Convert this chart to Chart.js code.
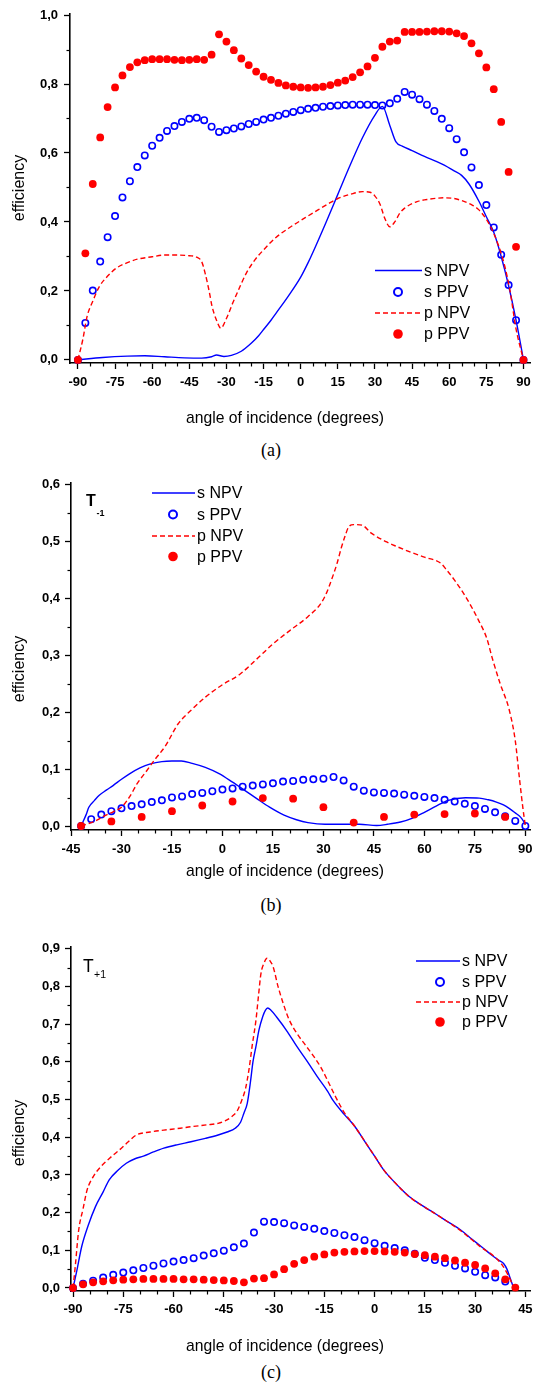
<!DOCTYPE html>
<html><head><meta charset="utf-8">
<script src="https://cdn.jsdelivr.net/npm/chart.js@4.4.1/dist/chart.umd.min.js"></script>
<style>
html,body{margin:0;padding:0;background:#fff;}
#page{position:relative;width:536px;height:1382px;overflow:hidden;background:#fff;}
.wrap{position:absolute;left:0;width:536px;}
.cap{position:absolute;left:0;width:542px;text-align:center;font-family:'Liberation Serif','Times New Roman',serif;font-size:18px;line-height:20px;color:#000;}
</style></head>
<body><div id="page">
<div class="wrap" style="top:0px;height:433px"><canvas id="ca" width="536" height="433"></canvas></div>
<div class="cap" style="top:440px">(a)</div>
<div class="wrap" style="top:465px;height:425px"><canvas id="cb" width="536" height="425"></canvas></div>
<div class="cap" style="top:895px">(b)</div>
<div class="wrap" style="top:925px;height:436px"><canvas id="cc" width="536" height="436"></canvas></div>
<div class="cap" style="top:1362px">(c)</div>
</div>
<script>
// ---------------- DATA ----------------
const seriesLabels = ['s NPV', 's PPV', 'p NPV', 'p PPV'];
const xTitle = 'angle of incidence (degrees)';
const yTitle = 'efficiency';

// Panel (a)
const aXTicks = [-90,-75,-60,-45,-30,-15,0,15,30,45,60,75,90];
const aYTicks = [0,0.2,0.4,0.6,0.8,1.0];
const aAngles = [-90,-87,-84,-81,-78,-75,-72,-69,-66,-63,-60,-57,-54,-51,-48,-45,-42,-39,-36,-33,-30,-27,-24,-21,-18,-15,-12,-9,-6,-3,0,3,6,9,12,15,18,21,24,27,30,33,36,39,42,45,48,51,54,57,60,63,66,69,72,75,78,81,84,87,90];
const aSPPV = [0,0.107,0.201,0.285,0.356,0.417,0.471,0.518,0.559,0.593,0.621,0.644,0.664,0.678,0.690,0.699,0.702,0.695,0.676,0.661,0.666,0.671,0.677,0.684,0.690,0.697,0.702,0.708,0.714,0.719,0.724,0.728,0.731,0.734,0.736,0.738,0.739,0.740,0.740,0.740,0.739,0.738,0.744,0.757,0.777,0.769,0.756,0.740,0.722,0.699,0.672,0.640,0.602,0.558,0.507,0.449,0.384,0.305,0.217,0.115,0];
const aPPPV = [0,0.309,0.51,0.645,0.733,0.79,0.825,0.849,0.863,0.869,0.872,0.872,0.872,0.870,0.869,0.870,0.872,0.870,0.885,0.944,0.923,0.898,0.874,0.855,0.836,0.821,0.812,0.803,0.796,0.792,0.790,0.789,0.790,0.792,0.797,0.804,0.810,0.820,0.834,0.851,0.876,0.908,0.923,0.926,0.951,0.951,0.951,0.952,0.953,0.953,0.952,0.947,0.939,0.918,0.889,0.848,0.785,0.690,0.545,0.328,0];
const aSNPVx = [-90,-80,-70,-63,-55,-47,-40,-36,-34,-31,-28,-24,-20,-17,-15,-12,-10,-5,0,3,5,10,15,20,25,30,33,36,38.5,41,45,50,55,58,62,65,68,72,75,78,81,84,87,90];
const aSNPVy = [0,0.007,0.011,0.012,0.009,0.006,0.005,0.009,0.014,0.010,0.013,0.025,0.048,0.07,0.088,0.115,0.135,0.185,0.24,0.282,0.313,0.395,0.48,0.565,0.645,0.71,0.735,0.68,0.632,0.62,0.607,0.59,0.575,0.565,0.548,0.535,0.51,0.46,0.415,0.37,0.30,0.215,0.115,0];
const aPNPVx = [-90,-88,-86.3,-84,-81.4,-78,-74.5,-70,-66,-60,-55,-50,-45,-42,-40,-38.6,-37,-35.8,-34,-32.3,-30,-27.5,-25,-22,-18.5,-15,-10,-4,2,7,11,15,20,25,28,30,32,34,36,38,40,42,47,52,58,62,65,69,72,76,80,82.5,84.5,87,90];
const aPNPVy = [0,0.06,0.126,0.17,0.212,0.243,0.266,0.282,0.292,0.299,0.304,0.304,0.302,0.298,0.285,0.251,0.20,0.155,0.115,0.092,0.12,0.164,0.205,0.251,0.29,0.319,0.355,0.386,0.413,0.435,0.452,0.468,0.48,0.488,0.486,0.475,0.452,0.41,0.386,0.40,0.425,0.44,0.459,0.466,0.470,0.468,0.462,0.45,0.435,0.396,0.33,0.27,0.203,0.09,0];

// Panel (b)  T-1
const bXTicks = [-45,-30,-15,0,15,30,45,60,75,90];
const bYTicks = [0,0.1,0.2,0.3,0.4,0.5,0.6];
const bDotAngles = [-42,-33,-24,-15,-6,3,12,21,30,39,48,57,66,75,84];
const bPPPV = [0,0.008,0.016,0.026,0.036,0.043,0.049,0.048,0.033,0.006,0.016,0.020,0.021,0.022,0.016];
const bCircAngles = [-42,-39,-36,-33,-30,-27,-24,-21,-18,-15,-12,-9,-6,-3,0,3,6,9,12,15,18,21,24,27,30,33,36,39,42,45,48,51,54,57,60,63,66,69,72,75,78,81,84,87,90];
const bSPPV = [0,0.012,0.020,0.026,0.031,0.035,0.038,0.042,0.045,0.050,0.052,0.056,0.058,0.061,0.064,0.066,0.069,0.071,0.073,0.075,0.078,0.079,0.081,0.082,0.083,0.086,0.080,0.069,0.062,0.059,0.058,0.057,0.055,0.053,0.051,0.049,0.046,0.043,0.039,0.035,0.030,0.024,0.017,0.009,0];
const bSNPVx = [-42,-41.7,-40.5,-39.7,-38,-36.6,-34.5,-32.5,-30,-27.5,-24.5,-21.4,-18,-15,-12.2,-9,-5.1,-1,3,6.5,10.2,14,18.3,22,25.4,30.5,36,40.7,45.8,49,52.9,56.5,60,63.5,67.1,72.2,76.3,79,81.4,83.5,85.4,87,88.5,89.5,90];
const bSNPVy = [0,0.004,0.02,0.033,0.045,0.054,0.063,0.071,0.082,0.092,0.102,0.109,0.113,0.114,0.114,0.11,0.103,0.092,0.077,0.063,0.048,0.033,0.019,0.011,0.006,0.003,0.003,0.003,0.001,0.003,0.007,0.014,0.024,0.035,0.045,0.0496,0.049,0.046,0.042,0.037,0.030,0.023,0.016,0.008,0.003];
const bPNPVx = [-42,-38,-35.6,-32.5,-30,-27.5,-25.4,-22.5,-20.3,-17,-13.2,-9,-5.1,0,5.1,10,15.1,20,25.3,29.3,31,32.4,34,35.4,36.5,37.5,39,41.5,44,48.6,52,55.7,60,64.9,66.5,68.9,72.5,76.1,78.5,80.2,82.5,85.2,87,88.2,89.3,90];
const bPNPVy = [0,0.008,0.016,0.025,0.033,0.052,0.074,0.097,0.115,0.14,0.179,0.205,0.226,0.248,0.266,0.292,0.32,0.343,0.367,0.391,0.41,0.432,0.46,0.49,0.51,0.525,0.529,0.528,0.515,0.499,0.49,0.481,0.472,0.461,0.45,0.432,0.40,0.361,0.33,0.294,0.25,0.204,0.15,0.086,0.03,0];

// Panel (c)  T+1
const cXTicks = [-90,-75,-60,-45,-30,-15,0,15,30,45];
const cYTicks = [0,0.1,0.2,0.3,0.4,0.5,0.6,0.7,0.8,0.9];
const cDotAngles = [-90,-87,-84,-81,-78,-75,-72,-69,-66,-63,-60,-57,-54,-51,-48,-45,-42,-39,-36,-33,-30,-27,-24,-21,-18,-15,-12,-9,-6,-3,0,3,6,9,12,15,18,21,24,27,30,33,36,39,42];
const cPPPV = [0,0.0097,0.015,0.0177,0.0204,0.022,0.023,0.024,0.024,0.024,0.024,0.023,0.023,0.022,0.021,0.020,0.0186,0.015,0.025,0.026,0.036,0.050,0.064,0.074,0.083,0.089,0.094,0.096,0.097,0.098,0.098,0.097,0.096,0.094,0.090,0.087,0.083,0.079,0.073,0.067,0.061,0.052,0.039,0.023,0.001];
const cCircAngles = [-90,-87,-84,-81,-78,-75,-72,-69,-66,-63,-60,-57,-54,-51,-48,-45,-42,-39,-36,-33,-30,-27,-24,-21,-18,-15,-12,-9,-6,-3,0,3,6,9,12,15,18,21,24,27,30,33,36,39];
const cSPPV = [0,0.011,0.0195,0.0275,0.035,0.041,0.047,0.053,0.059,0.065,0.070,0.074,0.079,0.086,0.092,0.099,0.108,0.118,0.147,0.176,0.175,0.172,0.166,0.162,0.157,0.151,0.146,0.140,0.135,0.127,0.119,0.112,0.106,0.100,0.091,0.080,0.074,0.067,0.059,0.052,0.043,0.034,0.028,0.017];
const cSNPVx = [-90,-89,-87.4,-85.5,-83.3,-81,-79.2,-76.5,-74.1,-71.5,-69,-66,-62.9,-59,-54.8,-50.5,-46.7,-44,-41.6,-40,-39,-38,-37,-36.3,-35.4,-34.5,-33.4,-32.6,-31.9,-31,-29.3,-26,-23.2,-20,-17.1,-14,-12.5,-9,-6,-3,0,3,5.3,8,10.4,14,18.5,22,25.7,29,31.8,35,37,38.5,39.5,40.5,41.5];
const cSNPVy = [0,0.04,0.11,0.165,0.216,0.255,0.287,0.313,0.331,0.343,0.350,0.361,0.371,0.38,0.388,0.397,0.406,0.414,0.424,0.44,0.464,0.49,0.55,0.60,0.641,0.685,0.72,0.737,0.743,0.738,0.72,0.68,0.641,0.60,0.561,0.522,0.499,0.46,0.43,0.39,0.35,0.31,0.287,0.262,0.242,0.22,0.195,0.175,0.154,0.13,0.11,0.087,0.074,0.065,0.05,0.025,0];
const cPNPVx = [-90,-89.3,-88.3,-87,-85.8,-84,-81.7,-79,-76.2,-73.5,-71.1,-67,-62.9,-58,-54.8,-50,-46.7,-44.5,-42.6,-41,-40,-38.5,-37.5,-36.5,-35.4,-34.6,-33.9,-33,-32.1,-31.2,-30.3,-28.8,-27.3,-25.5,-23.2,-20.5,-18.1,-16,-14.1,-11.5,-9,-6,-3,0,3,5.3,10.4,18.5,25.7,31.8,35.8,38,39.5,41,41.5];
const cPNPVy = [0,0.06,0.154,0.21,0.26,0.295,0.322,0.345,0.366,0.388,0.406,0.414,0.419,0.424,0.428,0.433,0.437,0.444,0.455,0.47,0.49,0.53,0.579,0.645,0.711,0.78,0.835,0.862,0.875,0.868,0.853,0.80,0.756,0.712,0.676,0.643,0.614,0.585,0.552,0.505,0.465,0.43,0.39,0.35,0.31,0.287,0.242,0.195,0.152,0.108,0.083,0.062,0.04,0.012,0];

// ---------------- STYLE / RENDER ----------------
const BLUE = '#0000ff', RED = '#ff0000';
const FONT = "'Liberation Sans', Arial, Helvetica, sans-serif";
Chart.defaults.font.family = FONT;
Chart.defaults.color = '#000';

const pts = (xs, ys) => xs.map((x, i) => ({x: x, y: ys[i]}));

function makeSets(sNPV, sPPV, pNPV, pPPV) {
  return [
    {label: seriesLabels[0], data: sNPV, kind: 'line', showLine: true, borderColor: BLUE, borderWidth: 1.4,
     pointRadius: 0, cubicInterpolationMode: 'monotone', order: 4, clip: false},
    {label: seriesLabels[1], data: sPPV, kind: 'open', showLine: false, pointStyle: 'circle',
     pointBorderColor: BLUE, pointBackgroundColor: 'rgba(0,0,0,0)', pointBorderWidth: 1.6, pointRadius: 3.2,
     borderColor: BLUE, order: 3, clip: false},
    {label: seriesLabels[2], data: pNPV, kind: 'line', showLine: true, borderColor: RED, borderWidth: 1.4,
     borderDash: [5, 3], pointRadius: 0, cubicInterpolationMode: 'monotone', order: 2, clip: false},
    {label: seriesLabels[3], data: pPPV, kind: 'dot', showLine: false, pointStyle: 'circle',
     pointBorderColor: RED, pointBackgroundColor: RED, pointBorderWidth: 0, pointRadius: 3.9,
     borderColor: RED, backgroundColor: RED, order: 1, clip: false}
  ];
}

const decor = {
  id: 'decor',
  afterDraw(chart, args, o) {
    const ctx = chart.ctx;
    const xs = chart.scales.x, ys = chart.scales.y;
    ctx.save();
    // minor ticks
    ctx.strokeStyle = '#000'; ctx.lineWidth = 1.2; ctx.setLineDash([]);
    const majX = xs.ticks.map(t => t.value), majY = ys.ticks.map(t => t.value);
    const isMaj = (arr, v) => arr.some(m => Math.abs(m - v) < 1e-6);
    for (let v = Math.ceil(xs.min / o.minorX) * o.minorX; v <= xs.max + 1e-9; v += o.minorX) {
      if (isMaj(majX, v)) continue;
      const p = Math.round(xs.getPixelForValue(v)) + 0.5;
      ctx.beginPath(); ctx.moveTo(p, xs.top); ctx.lineTo(p, xs.top + o.minorLen); ctx.stroke();
    }
    for (let v = Math.ceil(ys.min / o.minorY) * o.minorY; v <= ys.max + 1e-9; v += o.minorY) {
      if (isMaj(majY, v)) continue;
      const p = Math.round(ys.getPixelForValue(v)) + 0.5;
      ctx.beginPath(); ctx.moveTo(ys.right, p); ctx.lineTo(ys.right - o.minorLen, p); ctx.stroke();
    }
    // axis titles
    ctx.fillStyle = '#000';
    ctx.textAlign = 'center'; ctx.textBaseline = 'middle';
    ctx.font = '15.7px ' + FONT;
    ctx.fillText(xTitle, o.xTitle[0], o.xTitle[1]);
    ctx.save();
    ctx.translate(o.yTitle[0], o.yTitle[1]); ctx.rotate(-Math.PI / 2);
    ctx.font = '16px ' + FONT;
    ctx.fillText(yTitle, 0, 0);
    ctx.restore();
    // legend
    const L = o.legend;
    ctx.font = '16px ' + FONT; ctx.textBaseline = 'middle'; ctx.textAlign = 'left';
    chart.data.datasets.forEach((ds, i) => {
      const y = L.rows[i];
      if (ds.kind === 'line') {
        ctx.strokeStyle = ds.borderColor; ctx.lineWidth = 1.5; ctx.setLineDash(ds.borderDash || []);
        ctx.beginPath(); ctx.moveTo(L.x1, y); ctx.lineTo(L.x2, y); ctx.stroke();
        ctx.setLineDash([]);
      } else if (ds.kind === 'open') {
        ctx.strokeStyle = BLUE; ctx.lineWidth = 2;
        ctx.beginPath(); ctx.arc(L.xm, y, 4, 0, Math.PI * 2); ctx.stroke();
      } else {
        ctx.fillStyle = RED;
        ctx.beginPath(); ctx.arc(L.xm, y, 4.8, 0, Math.PI * 2); ctx.fill();
      }
      ctx.fillStyle = '#000';
      ctx.fillText(ds.label, L.xt, y + 1);
    });
    // order label (T with subscript)
    if (o.tag) {
      const t = o.tag;
      ctx.textBaseline = 'alphabetic';
      ctx.font = t.weight + ' ' + t.size + 'px ' + FONT;
      ctx.fillText(t.main, t.x, t.y);
      ctx.font = t.weight + ' ' + t.subSize + 'px ' + FONT;
      ctx.fillText(t.sub, t.sx, t.sy);
    }
    ctx.restore();
  }
};

function makeChart(id, cfg) {
  const fmtY = v => Number(v).toFixed(1).replace('.', ',');
  const tickFont = {size: 13, weight: 'bold'};
  return new Chart(document.getElementById(id), {
    type: 'scatter',
    data: {datasets: cfg.datasets},
    plugins: [decor],
    options: {
      responsive: false, animation: false, events: [],
      layout: {padding: {left: 0, right: cfg.padRight, top: cfg.padTop, bottom: 0}},
      plugins: {legend: {display: false}, tooltip: {enabled: false}, decor: cfg.decor},
      scales: {
        x: {
          type: 'linear', position: 'bottom', min: cfg.xMin, max: cfg.xMax,
          afterBuildTicks: s => { s.ticks = cfg.xTicks.map(v => ({value: v})); },
          afterFit: s => { s.height = cfg.xH; s.paddingLeft = 0; s.paddingRight = 0; s.paddingTop = 0; s.paddingBottom = 0; },
          ticks: {autoSkip: false, maxRotation: 0, font: tickFont, color: '#000', padding: cfg.xTickPad,
                  callback: v => String(v)},
          grid: {drawOnChartArea: false, drawTicks: true, tickLength: 6, tickColor: '#000', tickWidth: 1.3},
          border: {display: true, color: '#000', width: 1.6},
          title: {display: false}
        },
        y: {
          type: 'linear', position: 'left', min: cfg.yMin, max: cfg.yMax,
          afterBuildTicks: s => { s.ticks = cfg.yTicks.map(v => ({value: v})); },
          afterFit: s => { s.width = cfg.yW; s.paddingLeft = 0; s.paddingRight = 0; s.paddingTop = 0; s.paddingBottom = 0; },
          ticks: {font: tickFont, color: '#000', padding: cfg.yTickPad, callback: fmtY},
          grid: {drawOnChartArea: false, drawTicks: true, tickLength: 6, tickColor: '#000', tickWidth: 1.3},
          border: {display: true, color: '#000', width: 1.6},
          title: {display: false}
        }
      }
    }
  });
}

// (a) canvas top 0
makeChart('ca', {
  datasets: makeSets(pts(aSNPVx, aSNPVy), pts(aAngles, aSPPV), pts(aPNPVx, aPNPVy), pts(aAngles, aPPPV)),
  xMin: -93.2, xMax: 92.8, yMin: -0.009, yMax: 1.003, xTicks: aXTicks, yTicks: aYTicks,
  padRight: 2, padTop: 14, yW: 70, xH: 70, xTickPad: 6, yTickPad: 6,
  decor: {minorX: 5, minorY: 0.1, minorLen: 3.5, xTitle: [285, 419], yTitle: [19.5, 188],
          legend: {x1: 375, x2: 422, xm: 398, xt: 424, rows: [270.5, 292, 313, 334]}}
});
// (b) canvas top 465
makeChart('cb', {
  datasets: makeSets(pts(bSNPVx, bSNPVy), pts(bCircAngles, bSPPV), pts(bPNPVx, bPNPVy), pts(bDotAngles, bPPPV)),
  xMin: -45, xMax: 91.5, yMin: -0.007, yMax: 0.602, xTicks: bXTicks, yTicks: bYTicks,
  padRight: 3, padTop: 18, yW: 71, xH: 60, xTickPad: 6, yTickPad: 5,
  decor: {minorX: 5, minorY: 0.05, minorLen: 3.5, xTitle: [285, 407], yTitle: [19.5, 204],
          legend: {x1: 152, x2: 195, xm: 173, xt: 197, rows: [28, 49.5, 71, 91.5]},
          tag: {main: 'T', sub: '-1', weight: 'bold', size: 16, subSize: 9, x: 86, y: 41, sx: 96.5, sy: 50.5}}
});
// (c) canvas top 925
makeChart('cc', {
  datasets: makeSets(pts(cSNPVx, cSNPVy), pts(cCircAngles, cSPPV), pts(cPNPVx, cPNPVy), pts(cDotAngles, cPPPV)),
  xMin: -90.6, xMax: 46.5, yMin: -0.008, yMax: 0.905, xTicks: cXTicks, yTicks: cYTicks,
  padRight: 2, padTop: 22, yW: 71, xH: 70, xTickPad: 5, yTickPad: 5,
  decor: {minorX: 5, minorY: 0.05, minorLen: 3.5, xTitle: [285, 422], yTitle: [19.5, 208],
          legend: {x1: 416, x2: 460, xm: 440, xt: 462, rows: [36, 57, 77, 97]},
          tag: {main: 'T', sub: '+1', weight: 'normal', size: 17.5, subSize: 10.5, x: 83, y: 47, sx: 94, sy: 53}}
});
</script>
</body></html>
